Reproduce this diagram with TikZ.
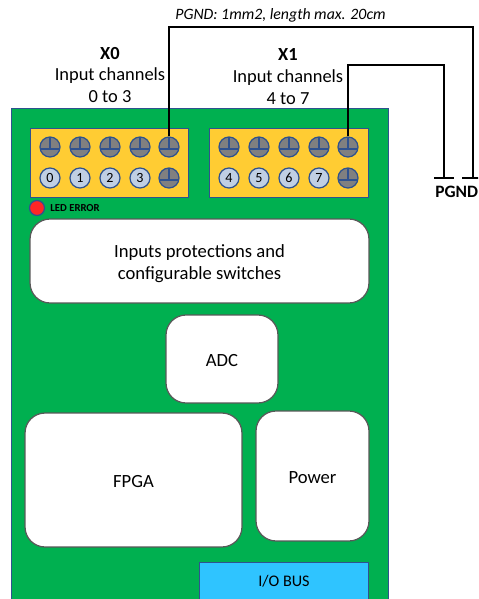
\documentclass[tikz,border=0pt]{standalone}
\usepackage{fontspec}
\setmainfont{Carlito}
\definecolor{boardgreen}{HTML}{00B050}
\definecolor{portyellow}{HTML}{FFCC33}
\definecolor{edgeblue}{HTML}{2F528F}
\definecolor{pinblue}{HTML}{C0CFE4}
\definecolor{busblue}{HTML}{2FC4FF}
\tikzset{
	block/.style={draw=black!65, fill=white, line width=0.25mm, rounded corners=0.4cm, inner sep=0pt, align=center, font=\fontsize{10.6}{12.5}\selectfont},
	port/.style={draw=edgeblue, fill=portyellow, line width=0.2mm, inner sep=0pt, minimum width=3.18cm, minimum height=1.4cm},
	pinnum/.style={circle, draw=edgeblue, fill=pinblue, line width=0.25mm, inner sep=0pt, minimum size=0.4cm, font=\fontsize{8}{9}\selectfont},
	pingnd/.style={circle, draw=edgeblue, fill=black!50, line width=0.25mm, inner sep=0pt, minimum size=0.4cm,
		path picture={
			\draw[edgeblue, line width=0.25mm] ([yshift=-0.04cm]path picture bounding box.west) -- ([yshift=-0.04cm]path picture bounding box.east);
			\draw[edgeblue, line width=0.25mm] (path picture bounding box.north) -- ([yshift=-0.04cm]path picture bounding box.center);
		}},
	caption/.style={inner sep=0pt, align=center, font=\fontsize{10.5}{12.3}\selectfont},
	wire/.style={line width=0.3mm, color=black},
}
\begin{document}
\begin{tikzpicture}[x=0.02cm, y=-0.02cm]
	\useasboundingbox (0, 0) rectangle (478, 599);
	\clip (0, 0) rectangle (478, 599);
	
	% board
	\node[draw=edgeblue, fill=boardgreen, line width=0.2mm, inner sep=0pt, minimum width=7.54cm, minimum height=10.1cm, anchor=north west] (board) at (11, 108) {};
	
	% ports
	\node[port] (portA) at (109.5, 163) {};
	\node[port] (portB) at (289, 163) {};
	
	\foreach \i/\x/\t in {0/50/0, 1/80/1, 2/110/2, 3/140/3} {
		\node[pingnd] (gndA\i) at (\x, 147) {};
		\node[pinnum] (numA\i) at (\x, 178) {\t};
	}
	\node[pingnd] (gndA4) at (169, 147) {};
	\node[pingnd] (gndA5) at (169, 178) {};
	
	\foreach \i/\x/\t in {0/229/4, 1/259/5, 2/289/6, 3/319/7} {
		\node[pingnd] (gndB\i) at (\x, 147) {};
		\node[pinnum] (numB\i) at (\x, 178) {\t};
	}
	\node[pingnd] (gndB4) at (348, 147) {};
	\node[pingnd] (gndB5) at (348, 178) {};
	
	% led
	\node[circle, draw=edgeblue, fill=red!85!white, line width=0.25mm, inner sep=0pt, minimum size=0.3cm] (led) at (37, 208) {};
	\node[inner sep=0pt, anchor=west, font=\fontsize{6.1}{7}\selectfont\bfseries] (ledtext) at (50, 208.5) {LED ERROR};
	
	% blocks
	\node[block, minimum width=6.78cm, minimum height=1.68cm] (inputs) at (199.5, 261) {\rule{0pt}{10.6pt}Inputs protections and\\configurable switches};
	\node[block, minimum width=2.24cm, minimum height=1.76cm] (adc) at (222, 359) {\rule{0pt}{8.4pt}ADC};
	\node[block, minimum width=4.34cm, minimum height=2.68cm] (fpga) at (133.5, 480) {\rule{0pt}{8.4pt}FPGA};
	\node[block, minimum width=2.26cm, minimum height=2.6cm] (power) at (312.5, 476) {\rule{0pt}{8.4pt}Power};
	\node[draw=edgeblue, fill=busblue, line width=0.2mm, inner sep=0pt, minimum width=3.4cm, minimum height=1cm, anchor=north] (bus) at (284, 562) {};
	\node[inner sep=0pt, font=\fontsize{9.2}{10}\selectfont] (bustext) at (284, 581) {I/O BUS};
	
	% captions
	\node[caption] (capA) at (110, 75) {\textbf{X0}\\Input channels\\0 to 3};
	\node[caption] (capB) at (288, 76.5) {\textbf{X1}\\Input channels\\4 to 7};
	\node[inner sep=0pt, anchor=west, font=\fontsize{9}{11}\selectfont\itshape] (wirenote) at (175, 15) {PGND: 1mm2, length max. 20cm};
	\node[inner sep=0pt, anchor=west, font=\fontsize{9.9}{11}\selectfont\bfseries] (pgnd) at (435, 192) {PGND};
	
	% wires
	\coordinate (bendA) at (169, 27);
	\coordinate (endA) at (473, 178);
	\coordinate (bendB) at (348, 65);
	\coordinate (endB) at (444, 178);
	
	\draw[wire] (gndA4.north) -- (bendA) -| (endA);
	\draw[wire] (gndB4.north) -- (bendB) -| (endB);
	\draw[wire] ([xshift=-0.22cm]endA) -- ([xshift=0.22cm]endA);
	\draw[wire] ([xshift=-0.2cm]endB) -- ([xshift=0.2cm]endB);
\end{tikzpicture}
\end{document}
